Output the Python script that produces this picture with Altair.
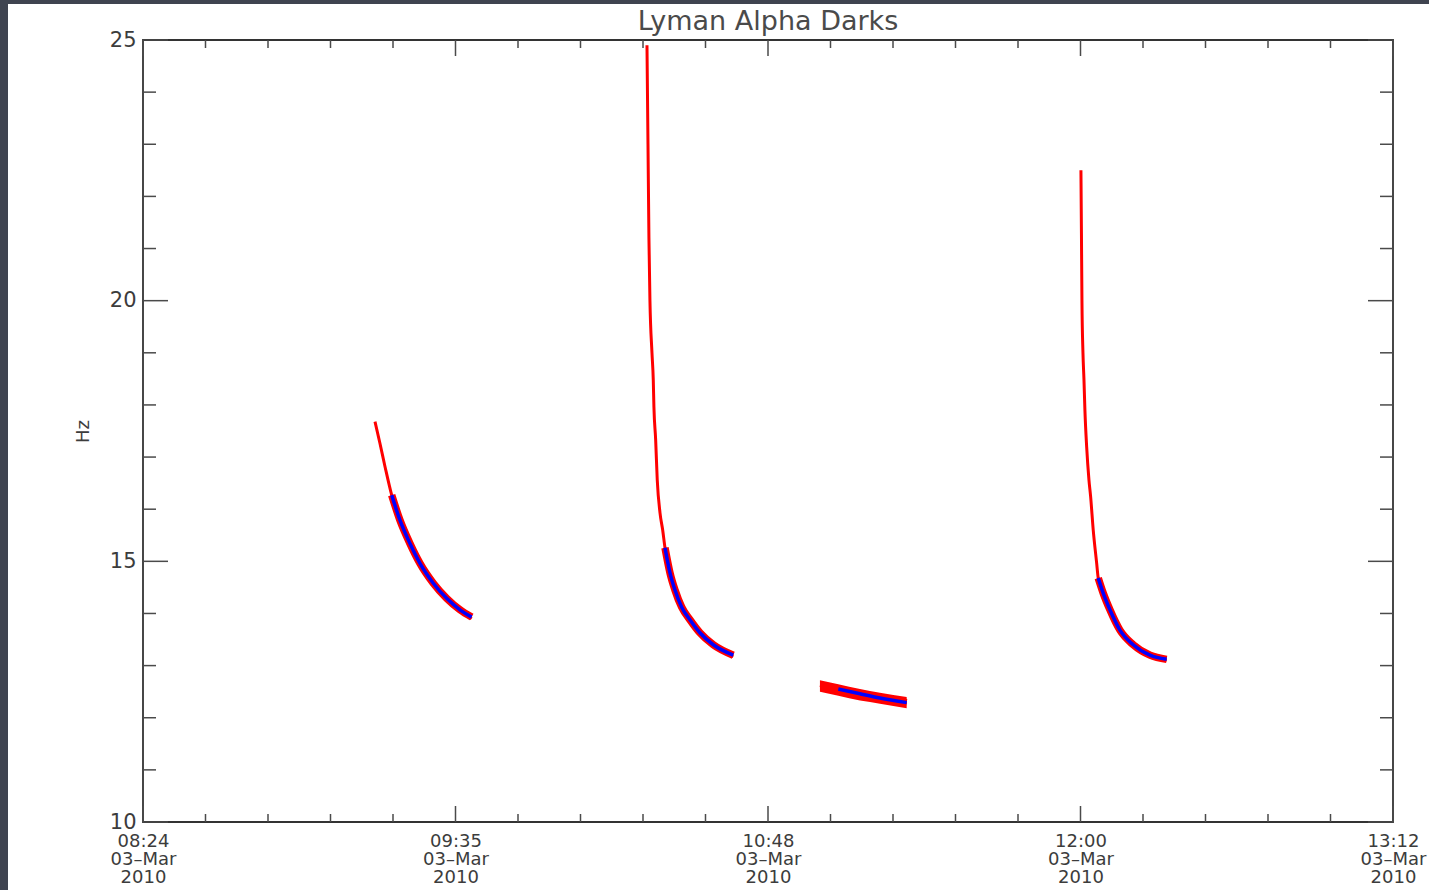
import altair as alt
import pandas as pd

START = pd.Timestamp("2010-03-03 08:24:00")
TITLE = "Lyman Alpha Darks"

# ---- red samples: segment id, minutes after 08:24, Hz ----
red_seg = [1]*11 + [2]*19 + [3]*5 + [4]*18
red_min = [53.45, 54.60, 55.76, 57.30, 59.21, 61.52, 63.82, 66.89, 69.97, 73.04, 75.73,
           116.12, 116.35, 116.58, 116.81, 117.27, 117.57, 117.73, 118.12, 118.49, 119.12,
           119.74, 120.27, 121.42, 122.57, 124.12, 126.03, 128.33, 131.40, 136.01,
           155.98, 160.20, 165.20, 169.81, 175.96,
           216.11, 216.22, 216.34, 216.57, 216.80, 217.03, 217.42, 217.95, 218.34, 218.94,
           219.72, 220.09, 221.24, 222.79, 225.09, 228.16, 232.00, 235.85]
red_hz = [17.68, 17.26, 16.82, 16.27, 15.79, 15.34, 14.96, 14.58, 14.29, 14.07, 13.90,
          24.90, 23.00, 21.20, 20.00, 19.00, 18.48, 17.96, 17.33, 16.56, 15.93,
          15.60, 15.26, 14.78, 14.45, 14.12, 13.88, 13.63, 13.40, 13.17,
          12.62, 12.53, 12.44, 12.37, 12.29,
          22.50, 21.30, 20.00, 19.00, 18.48, 17.90, 17.20, 16.56, 16.24, 15.60,
          14.97, 14.68, 14.39, 14.07, 13.68, 13.40, 13.20, 13.10]

# ---- blue fit: segment id, minutes after 08:24, Hz ----
blue_seg = [1]*8 + [2]*8 + [3]*4 + [4]*7
blue_min = [57.30, 59.21, 61.52, 63.82, 66.89, 69.97, 73.04, 75.73,
            120.27, 121.42, 122.57, 124.12, 126.03, 128.33, 131.40, 136.01,
            160.20, 165.20, 169.81, 175.96,
            220.09, 221.24, 222.79, 225.09, 228.16, 232.00, 235.85]
blue_hz = [16.27, 15.79, 15.34, 14.96, 14.58, 14.29, 14.07, 13.93,
           15.26, 14.78, 14.45, 14.12, 13.88, 13.63, 13.40, 13.20,
           12.55, 12.46, 12.38, 12.29,
           14.68, 14.39, 14.07, 13.68, 13.40, 13.20, 13.12]

# ---- red scatter band of the third segment ----
band_min = [155.98, 160.20, 165.20, 169.81, 175.96]
band_hi = [12.72, 12.64, 12.55, 12.48, 12.40]
band_lo = [12.50, 12.42, 12.33, 12.27, 12.18]

# ---- axis ticks ----
x_major_min = [0, 72, 144, 216, 288]
x_major_hm = ["08:24", "09:36", "10:48", "12:00", "13:12"]
x_major_labels = ["08:24", "09:35", "10:48", "12:00", "13:12"]
x_minor_min = [14.4, 28.8, 43.2, 57.6, 86.4, 100.8, 115.2, 129.6,
               158.4, 172.8, 187.2, 201.6, 230.4, 244.8, 259.2, 273.6]
y_major = [10, 15, 20, 25]
y_minor = [11, 12, 13, 14, 16, 17, 18, 19, 21, 22, 23, 24]


def ts(mins):
    return [(START + pd.to_timedelta(m, unit="min")).strftime("%Y-%m-%dT%H:%M:%S") for m in mins]


W, H = 1250, 782
FONT = "DejaVu Sans"
TXT = "#3c3c3c"
TICK = "#4a4a4a"
DARK = "#3f4450"

red_df = pd.DataFrame({"seg": red_seg, "t": ts(red_min), "hz": red_hz})
blue_df = pd.DataFrame({"seg": blue_seg, "t": ts(blue_min), "hz": blue_hz})
band_df = pd.DataFrame({"t": ts(band_min), "hi": band_hi, "lo": band_lo})
xmaj_df = pd.DataFrame({"t": ts(x_major_min)})
xmin_df = pd.DataFrame({"t": ts(x_minor_min)})
ymaj_df = pd.DataFrame({"hz": y_major})
ymin_df = pd.DataFrame({"hz": y_minor})

x_dom = [alt.DateTime(year=2010, month=3, date=3, hours=8, minutes=24),
         alt.DateTime(year=2010, month=3, date=3, hours=13, minutes=12)]
xscale = alt.Scale(domain=x_dom, nice=False)
yscale = alt.Scale(domain=[10, 25], nice=False, zero=False)

label_expr = "".join(
    f"timeFormat(datum.value, '%H:%M') == '{hm}' ? ['{lab}', timeFormat(datum.value, '%d') + '\u2013' + timeFormat(datum.value, '%b'), timeFormat(datum.value, '%Y')] : "
    for hm, lab in zip(x_major_hm, x_major_labels)
) + "''"

x_axis = alt.Axis(
    values=[alt.DateTime(year=2010, month=3, date=3, hours=int(h[:2]), minutes=int(h[3:])) for h in x_major_hm],
    labelExpr=label_expr, ticks=False, domain=False, grid=False, title=None,
    labelFont=FONT, labelFontSize=18, labelLineHeight=18, labelColor=TXT,
    labelPadding=10, labelFlush=False, labelOverlap=False, labelBound=False,
)
y_axis = alt.Axis(
    values=y_major, ticks=False, domain=False, grid=False, title="Hz",
    labelFont=FONT, labelFontSize=21, labelColor=TXT, labelPadding=7,
    labelFlush=False, labelOverlap=False,
    titleFont=FONT, titleFontSize=18, titleFontWeight="normal", titleColor=TXT,
    titlePadding=17,
)

XE = alt.X("t:T", scale=xscale, axis=x_axis)
YE = alt.Y("hz:Q", scale=yscale, axis=y_axis)

one = pd.DataFrame({"label": [TITLE]})
frame_left = alt.Chart(one).mark_rect(color=DARK).encode(
    x=alt.value(-143), x2=alt.value(-135), y=alt.value(-40), y2=alt.value(H + 68)
)
frame_top = alt.Chart(one).mark_rect(color=DARK).encode(
    x=alt.value(-143), x2=alt.value(W + 36), y=alt.value(-40), y2=alt.value(-36)
)
title = alt.Chart(one).mark_text(
    font=FONT, fontSize=27, color="#4a4a4a", baseline="alphabetic", align="center"
).encode(text="label:N", x=alt.value(W / 2), y=alt.value(-10))

red_thin = alt.Chart(red_df).mark_line(color="#ff0000", strokeWidth=3, interpolate="monotone").encode(
    x=XE, y=YE, detail="seg:N",
)
band = alt.Chart(band_df).mark_area(color="#ff0000", interpolate="monotone").encode(
    x=XE, y=alt.Y("hi:Q", scale=yscale, axis=y_axis), y2="lo:Q",
)
red_thick = alt.Chart(blue_df).mark_line(color="#ff0000", strokeWidth=7.5, interpolate="monotone").encode(
    x=XE, y=YE, detail="seg:N",
)
blue = alt.Chart(blue_df).mark_line(color="#0000ff", strokeWidth=3.5, interpolate="monotone").encode(
    x=XE, y=YE, detail="seg:N",
)


def xticks(df, length):
    base = alt.Chart(df).mark_rule(color=TICK, strokeWidth=1.5)
    return [base.encode(x=XE, y=alt.value(H), y2=alt.value(H - length)),
            base.encode(x=XE, y=alt.value(0), y2=alt.value(length))]


def yticks(df, length):
    base = alt.Chart(df).mark_rule(color=TICK, strokeWidth=1.5)
    return [base.encode(y=YE, x=alt.value(0), x2=alt.value(length)),
            base.encode(y=YE, x=alt.value(W), x2=alt.value(W - length))]


ticks = xticks(xmin_df, 8) + xticks(xmaj_df, 16) + yticks(ymin_df, 13) + yticks(ymaj_df, 25)

chart = alt.layer(frame_left, frame_top, title, *ticks, red_thin, band, red_thick, blue).properties(
    width=W, height=H,
    padding={"left": 143, "top": 40, "right": 36, "bottom": 68},
    autosize=alt.AutoSizeParams(type="none"),
).configure(background="white").configure_view(stroke="#333333", strokeWidth=1.8)

chart.save("out.html", embed_options={"renderer": "svg", "actions": False})
